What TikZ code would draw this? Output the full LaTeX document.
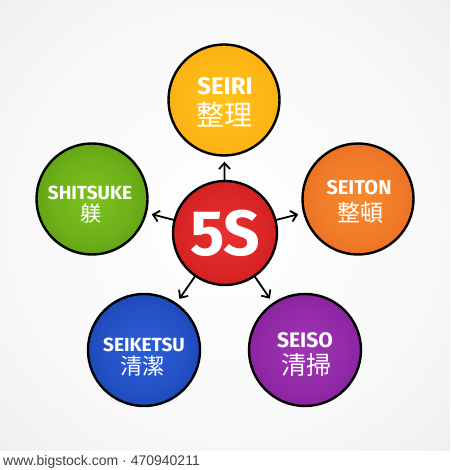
\documentclass[tikz,border=0pt]{standalone}
\usepackage{fontspec}
\setmainfont{Fira Sans}
\newfontfamily\cjk{Noto Sans CJK JP}
\newfontfamily\wmfont{Liberation Sans}
\usetikzlibrary{arrows.meta}
\definecolor{cin}{HTML}{FFFFFF}
\definecolor{cout}{HTML}{000000}
\definecolor{redin}{HTML}{E83030}\definecolor{redout}{HTML}{B50A0A}
\definecolor{yelin}{HTML}{FFC21A}\definecolor{yelout}{HTML}{F59A0C}
\definecolor{orain}{HTML}{F68A2E}\definecolor{oraout}{HTML}{E0501A}
\definecolor{grein}{HTML}{7DC21E}\definecolor{greout}{HTML}{3F7D0C}
\definecolor{bluin}{HTML}{2C5FD6}\definecolor{bluout}{HTML}{0B2C93}
\definecolor{purin}{HTML}{A035B5}\definecolor{purout}{HTML}{6A0C80}
\pgfdeclareradialshading[cin,cout]{disc}{\pgfpoint{0bp}{0bp}}{color(0bp)=(cin); color(18bp)=(cin!75!cout); color(50bp)=(cout)}
\pgfdeclareradialshading{bgshade}{\pgfpoint{0bp}{0bp}}{color(0bp)=(white); color(25bp)=(white!97!black); color(50bp)=(white!90!black); color(75bp)=(white!86!black)}
\tikzset{
  ball/.style n args={3}{circle, draw=black, line width=2.4pt, minimum size=#1, inner sep=0pt,
     /utils/exec={\colorlet{cin}{#2}\colorlet{cout}{#3}}, shading=disc},
  en/.style={text=white, font=\bfseries\fontsize{#1}{#1}\selectfont, inner sep=0pt},
  jp/.style={text=white, font=\cjk\fontsize{#1}{#1}\selectfont, inner sep=0pt},
  arr/.style={line width=1.8pt, -{Straight Barb[length=6pt,width=11pt]}, shorten >=5pt, shorten <=-1pt}
}
\begin{document}
\begin{tikzpicture}[x=1pt,y=-1pt]
\useasboundingbox (0,0) rectangle (450,470);
\fill[white] (0,0) rectangle (450,470);
\shade[shading=bgshade] (0,0) rectangle (450,450);
% circles
\node[ball={104pt}{redin}{redout}, text=white, font=\bfseries\fontsize{64}{64}\selectfont] (c) at (225,233) {\raisebox{-3pt}{5S}};
\node[ball={111pt}{yelin}{yelout}] (seiri) at (224,100) {};
\node[ball={111pt}{orain}{oraout}] (seiton) at (358,199) {};
\node[ball={111pt}{grein}{greout}] (shitsuke) at (92,199) {};
\node[ball={112pt}{bluin}{bluout}] (seiketsu) at (144,350) {};
\node[ball={112pt}{purin}{purout}] (seiso) at (305,350) {};
% labels
\node[en=24] (seiri-e) at (225,86) {SEIRI};
\node[jp=28] (seiri-j) at (224,115) {整理};
\node[en=20] (seiton-e) at (359,188) {SEITON};
\node[jp=23] (seiton-j) at (360,213) {整頓};
\node[en=19] (shitsuke-e) at (90,193) {SHITSUKE};
\node[jp=21] (shitsuke-j) at (91,214) {躾};
\node[en=19] (seiketsu-e) at (144,345) {SEIKETSU};
\node[jp=22] (seiketsu-j) at (142,366) {清潔};
\node[en=21] (seiso-e) at (305,340) {SEISO};
\node[jp=25] (seiso-j) at (306,365) {清掃};
% arrows
\draw[arr] (c) -- (seiri);
\draw[arr] (c) -- (seiton);
\draw[arr] (c) -- (shitsuke);
\draw[arr] (c) -- (seiketsu);
\draw[arr] (c) -- (seiso);
% footer
\node[anchor=base west, inner sep=0pt, text=black!75, font=\wmfont\fontsize{14}{14}\selectfont] (wm) at (3,465) {www.bigstock.com · 470940211};
\end{tikzpicture}
\end{document}
